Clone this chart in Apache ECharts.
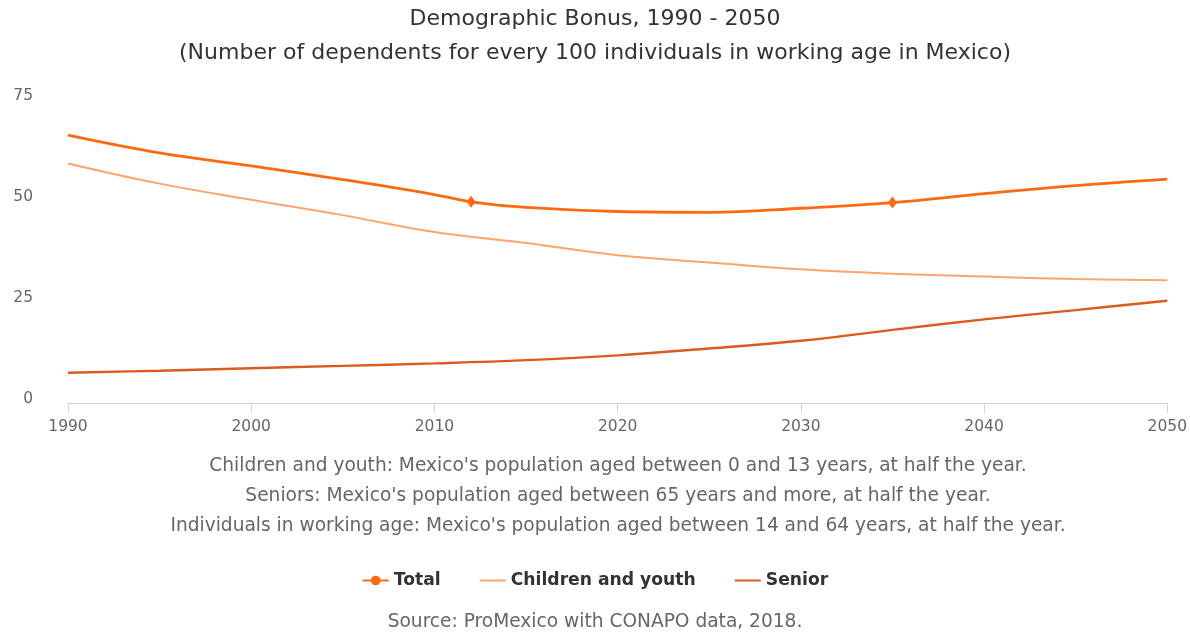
<!DOCTYPE html>
<html>
<head>
<meta charset="utf-8">
<script src="https://cdn.jsdelivr.net/npm/echarts@6/dist/echarts.min.js"></script>
<style>
  html, body { margin: 0; padding: 0; background: #fff; }
  #chart { width: 1190px; height: 632px; }
</style>
</head>
<body>
<div id="chart"></div>
<script>
// Dependency ratios for Mexico, 1990-2050
const years = [1990, 1995, 2000, 2005, 2010, 2012, 2015, 2020, 2025, 2030, 2035, 2040, 2045, 2050];
const totalValues = [66.3, 61.9, 58.7, 55.3, 51.6, 49.8, 48.4, 47.4, 47.2, 48.2, 49.6, 51.8, 53.8, 55.4];
const childYears = [1990, 1995, 2000, 2005, 2010, 2015, 2020, 2025, 2030, 2035, 2040, 2045, 2050];
const childValues = [59.3, 54.3, 50.3, 46.5, 42.3, 39.6, 36.6, 34.8, 33.1, 32.0, 31.3, 30.7, 30.4];
const seniorYears = [1990, 1995, 2000, 2005, 2010, 2015, 2020, 2025, 2030, 2035, 2040, 2045, 2050];
const seniorValues = [7.5, 8.0, 8.6, 9.2, 9.8, 10.6, 11.8, 13.5, 15.4, 18.1, 20.7, 23.0, 25.3];
const markerYears = [2012, 2035];

const seriesNames = ['Total', 'Children and youth', 'Senior'];
const xTicks = [1990, 2000, 2010, 2020, 2030, 2040, 2050];
const yTicks = [0, 25, 50, 75];

const titleText = 'Demographic Bonus, 1990 - 2050';
const subtitleText = '(Number of dependents for every 100 individuals in working age in Mexico)';
const notes = [
  "Children and youth: Mexico's population aged between 0 and 13 years, at half the year.",
  "Seniors: Mexico's population aged between 65 years and more, at half the year.",
  "Individuals in working age: Mexico's population aged between 14 and 64 years, at half the year."
];
const sourceText = 'Source: ProMexico with CONAPO data, 2018.';

const FONT = '"DejaVu Sans", Verdana, sans-serif';
const colors = { total: '#ff6a10', child: '#ffa46b', senior: '#dc5a1e' };

const totalData = years.map((y, i) => {
  const marked = markerYears.indexOf(y) >= 0;
  return {
    value: [y, totalValues[i]],
    symbol: marked ? 'diamond' : 'none',
    symbolSize: marked ? [9, 12] : 0
  };
});
const pair = (xs, vs) => xs.map((x, i) => [x, vs[i]]);

// explanatory notes under the axis, centred on the plot area
const noteGraphics = notes.map((t, i) => ({
  type: 'text',
  x: 618, y: 466 + i * 30,
  style: {
    text: t, fill: '#666666', font: '18.6px ' + FONT,
    textAlign: 'center', textVerticalAlign: 'middle'
  }
}));

const chart = echarts.init(document.getElementById('chart'), null, { renderer: 'canvas' });
chart.setOption({
  animation: false,
  backgroundColor: '#ffffff',
  textStyle: { fontFamily: FONT },
  title: [
    {
      text: titleText, left: 'center', top: 3,
      textStyle: { fontFamily: FONT, fontSize: 22, fontWeight: 'normal', color: '#333333' }
    },
    {
      text: subtitleText, left: 'center', top: 37,
      textStyle: { fontFamily: FONT, fontSize: 22, fontWeight: 'normal', color: '#333333' }
    },
    {
      text: sourceText, left: 'center', top: 608,
      textStyle: { fontFamily: FONT, fontSize: 18.6, fontWeight: 'normal', color: '#666666' }
    }
  ],
  graphic: noteGraphics,
  legend: {
    data: [
      { name: seriesNames[0] },
      { name: seriesNames[1], itemStyle: { opacity: 0 } },
      { name: seriesNames[2], itemStyle: { opacity: 0 } }
    ],
    top: 567, left: 'center',
    itemGap: 38, itemWidth: 26, itemHeight: 12,
    textStyle: { fontFamily: FONT, fontSize: 17.2, fontWeight: 'bold', color: '#333333' }
  },
  grid: { left: 68, right: 21, top: 100, bottom: 229 },
  xAxis: {
    type: 'value', min: 1990, max: 2050, interval: 10,
    axisLine: { show: true, lineStyle: { color: '#ccd6eb', width: 1 } },
    axisTick: { show: true, length: 10, lineStyle: { color: '#ccd6eb' } },
    splitLine: { show: false },
    axisLabel: {
      color: '#666666', fontSize: 15.5, margin: 16, fontFamily: FONT,
      formatter: v => (xTicks.indexOf(v) >= 0 ? String(v) : '')
    }
  },
  yAxis: {
    type: 'value', min: 0, max: 75, interval: 25,
    axisLine: { show: false }, axisTick: { show: false },
    splitLine: { show: false },
    axisLabel: {
      color: '#666666', fontSize: 15.5, margin: 35, align: 'right', fontFamily: FONT,
      verticalAlign: 'bottom', lineHeight: 8,
      formatter: v => (yTicks.indexOf(v) >= 0 ? String(v) : '')
    }
  },
  series: [
    {
      name: seriesNames[0], type: 'line', smooth: 0.4,
      data: totalData, symbol: 'circle', symbolSize: 8, showSymbol: true,
      lineStyle: { color: colors.total, width: 2.8 },
      itemStyle: { color: colors.total }, z: 3
    },
    {
      name: seriesNames[1], type: 'line', smooth: 0.4,
      data: pair(childYears, childValues), symbol: 'none',
      lineStyle: { color: colors.child, width: 2 },
      itemStyle: { color: colors.child }, z: 2
    },
    {
      name: seriesNames[2], type: 'line', smooth: 0.4,
      data: pair(seniorYears, seniorValues), symbol: 'none',
      lineStyle: { color: colors.senior, width: 2.4 },
      itemStyle: { color: colors.senior }, z: 2
    }
  ]
});
</script>
</body>
</html>
